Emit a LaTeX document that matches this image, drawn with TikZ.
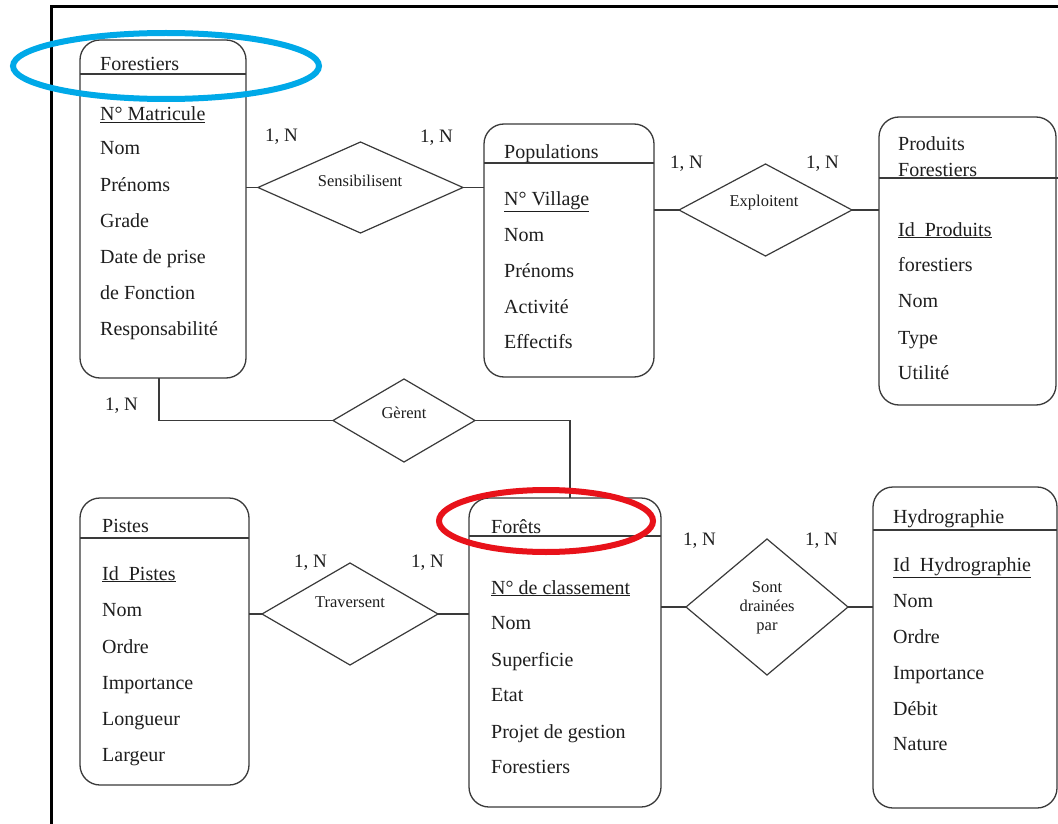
\documentclass[tikz,border=0pt]{standalone}
\usepackage{fontspec}
\setmainfont{Liberation Serif}
\usetikzlibrary{shapes.geometric}
\definecolor{ln}{HTML}{3A3A3A}
\definecolor{tx}{HTML}{1E1E1E}
\definecolor{hlb}{HTML}{00A9E8}
\definecolor{hlr}{HTML}{E8121A}
\begin{document}
\begin{tikzpicture}[x=1pt,y=-1pt,
 entity/.style={draw=ln, line width=1.3pt, rounded corners=20pt, inner sep=0, outer sep=0},
 rel/.style={draw=ln, line width=1.2pt, diamond, inner sep=0, outer sep=0},
 attr/.style={anchor=base west, inner sep=0, text=tx, font=\fontsize{20}{24}\selectfont},
 reltxt/.style={anchor=base, inner sep=0, text=tx, font=\fontsize{16.5}{19}\selectfont},
 card/.style={anchor=base west, inner sep=0, text=tx, font=\fontsize{19}{22}\selectfont},
 conn/.style={draw=ln, line width=1.3pt},
 hline/.style={draw=ln, line width=1.3pt},
 hl/.style={ellipse, draw, line width=6pt, inner sep=0}]
\useasboundingbox (0,0) rectangle (1058,824);
\fill[white] (0,0) rectangle (1058,824);
% frame
\draw[line width=3pt, black] (51,826) -- (51,7) -- (1060,7);

% ---------- entities ----------
\node[entity, minimum width=166, minimum height=338] (forestiers) at (163,209) {};
\node[entity, minimum width=170, minimum height=253] (populations) at (569,250.5) {};
\node[entity, minimum width=177, minimum height=288] (produits) at (967.5,261) {};
\node[entity, minimum width=169, minimum height=287] (pistes) at (164.5,641.5) {};
\node[entity, minimum width=192, minimum height=309] (forets) at (565,652.5) {};
\node[entity, minimum width=184, minimum height=321] (hydro) at (965,647.5) {};

% header lines
\draw[hline] (forestiers.west |- 0,74) -- (forestiers.east |- 0,74);
\draw[hline] (populations.west |- 0,163) -- (populations.east |- 0,163);
\draw[hline] (produits.west |- 0,178) -- (1058,178);
\draw[hline] (pistes.west |- 0,538) -- (pistes.east |- 0,538);
\draw[hline] (forets.west |- 0,536) -- (forets.east |- 0,536);
\draw[hline] (hydro.west |- 0,530) -- (hydro.east |- 0,530);

% Forestiers texts
\node[attr] (f0) at (100,71) {Forestiers};
\node[attr] (f1) at (100,121) {\underline{N° Matricule}};
\node[attr] (f2) at (100,155) {Nom};
\node[attr] (f3) at (100,191) {Prénoms};
\node[attr] (f4) at (100,227) {Grade};
\node[attr] (f5) at (100,263) {Date de prise};
\node[attr] (f6) at (100,299) {de Fonction};
\node[attr] (f7) at (100,335) {Responsabilité};

% Populations texts
\node[attr] (p0) at (504,159) {Populations};
\node[attr] (p1) at (504,205) {\underline{N° Village}};
\node[attr] (p2) at (504,241) {Nom};
\node[attr] (p3) at (504,277) {Prénoms};
\node[attr] (p4) at (504,313) {Activité};
\node[attr] (p5) at (504,348) {Effectifs};

% Produits texts
\node[attr] (r0) at (898,151) {Produits};
\node[attr] (r0b) at (898,176) {Forestiers};
\node[attr] (r1) at (898,236) {\underline{Id~~Produits}};
\node[attr] (r2) at (898,271) {forestiers};
\node[attr] (r3) at (898,307) {Nom};
\node[attr] (r4) at (898,344) {Type};
\node[attr] (r5) at (898,379) {Utilité};

% Pistes texts
\node[attr] (s0) at (102,532) {Pistes};
\node[attr] (s1) at (102,580) {\underline{Id~~Pistes}};
\node[attr] (s2) at (102,616) {Nom};
\node[attr] (s3) at (102,653) {Ordre};
\node[attr] (s4) at (102,689) {Importance};
\node[attr] (s5) at (102,725) {Longueur};
\node[attr] (s6) at (102,761) {Largeur};

% Forets texts
\node[attr] (o0) at (491,533) {Forêts};
\node[attr] (o1) at (491,594) {\underline{N° de classement}};
\node[attr] (o2) at (491,629) {Nom};
\node[attr] (o3) at (491,666) {Superficie};
\node[attr] (o4) at (491,701) {Etat};
\node[attr] (o5) at (491,738) {Projet de gestion};
\node[attr] (o6) at (491,773) {Forestiers};

% Hydrographie texts
\node[attr] (h0) at (893,523) {Hydrographie};
\node[attr] (h1) at (893,571) {\underline{Id~~Hydrographie}};
\node[attr] (h2) at (893,607) {Nom};
\node[attr] (h3) at (893,643) {Ordre};
\node[attr] (h4) at (893,679) {Importance};
\node[attr] (h5) at (893,715) {Débit};
\node[attr] (h6) at (893,750) {Nature};

% ---------- relations ----------
\node[rel, minimum width=205, minimum height=91] (sens) at (360.5,187.5) {};
\node[rel, minimum width=173, minimum height=92] (expl) at (765.5,210) {};
\node[rel, minimum width=142, minimum height=83] (gere) at (404,420.5) {};
\node[rel, minimum width=176, minimum height=102] (trav) at (350,614) {};
\node[rel, minimum width=162, minimum height=136] (sont) at (767,607) {};

\node[reltxt] (senst) at (360,186) {Sensibilisent};
\node[reltxt] (explt) at (764,206) {Exploitent};
\node[reltxt] (geret) at (404,418) {Gèrent};
\node[reltxt] (travt) at (350,607) {Traversent};
\node[reltxt] (sontt1) at (767,592) {Sont};
\node[reltxt] (sontt2) at (767,611) {drainées};
\node[reltxt] (sontt3) at (767,630) {par};

% ---------- connectors ----------
\draw[conn] (sens.west -| forestiers.east) -- (sens.west);
\draw[conn] (sens.east) -- (sens.east -| populations.west);
\draw[conn] (expl.west -| populations.east) -- (expl.west);
\draw[conn] (expl.east) -- (expl.east -| produits.west);
\draw[conn] ([xshift=-4pt]forestiers.south) |- (gere.west);
\draw[conn] (gere.east) -| ([xshift=5pt]forets.north);
\draw[conn] (trav.west -| pistes.east) -- (trav.west);
\draw[conn] (trav.east) -- (trav.east -| forets.west);
\draw[conn] (sont.west -| forets.east) -- (sont.west);
\draw[conn] (sont.east) -- (sont.east -| hydro.west);

% ---------- cardinalities ----------
\node[card] (c1) at (265,142) {1, N};
\node[card] (c2) at (420,143) {1, N};
\node[card] (c3) at (670,168) {1, N};
\node[card] (c4) at (806,168) {1, N};
\node[card] (c5) at (105,410) {1, N};
\node[card] (c6) at (294,567) {1, N};
\node[card] (c7) at (411,567) {1, N};
\node[card] (c8) at (683,545) {1, N};
\node[card] (c9) at (805,545) {1, N};

% ---------- highlights ----------
\node[hl, draw=hlb, minimum width=306, minimum height=66] (hlforestiers) at (166,66) {};
\node[hl, draw=hlr, minimum width=214, minimum height=62] (hlforets) at (546,521) {};
\end{tikzpicture}
\end{document}
